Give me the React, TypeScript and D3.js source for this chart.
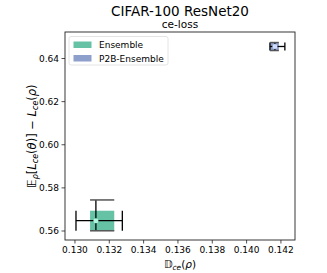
import React from "react";
import * as d3 from "d3";

const series = ["Ensemble", "P2B-Ensemble"];
const colors = ["#66c2a5", "#8da0cb"];
const dotColors = ["#b0f5dc", "#cfdcff"];
const centerX = [0.13122, 0.14165];
const centerY = [0.56478, 0.64557];
const boxXLow = [0.13088, 0.14136];
const boxXHigh = [0.13229, 0.14188];
const boxYLow = [0.5601, 0.6437];
const boxYHigh = [0.5694, 0.6474];
const errXLow = [0.13006, 0.14136];
const errXHigh = [0.13276, 0.14223];
const errYLow = [0.5601, 0.6437];
const errYHigh = [0.5744, 0.6474];
const xTicks = [0.13, 0.132, 0.134, 0.136, 0.138, 0.14, 0.142];
const yTicks = [0.56, 0.58, 0.6, 0.62, 0.64];

const W = 327, H = 273;
const L = 65, R = 295, T = 32, B = 240;
const FONT = "DejaVu Sans, sans-serif";

export default function App() {
  const x = d3.scaleLinear().domain([0.12942, 0.14282]).range([L, R]);
  const y = d3.scaleLinear().domain([0.56, 0.64]).range([231, 58.5]);
  return (
    <svg width={W} height={H} style={{ position: "absolute", left: 0, top: 0 }} fontFamily={FONT}>
      <rect x={0} y={0} width={W} height={H} fill="#fff" />
      <text x={180} y={16} textAnchor="middle" fontSize={13.5}>CIFAR-100 ResNet20</text>
      <text x={180} y={28} textAnchor="middle" fontSize={10.5}>ce-loss</text>
      {series.map((s, i) => (
        <g key={s}>
          <rect x={x(boxXLow[i])} y={y(boxYHigh[i])} width={x(boxXHigh[i]) - x(boxXLow[i])}
            height={y(boxYLow[i]) - y(boxYHigh[i])} fill={colors[i]} />
          <line x1={x(errXLow[i])} x2={x(errXHigh[i])} y1={y(centerY[i])} y2={y(centerY[i])} stroke="#000" strokeWidth={1.3} />
          <line x1={x(centerX[i])} x2={x(centerX[i])} y1={y(errYLow[i])} y2={y(errYHigh[i])} stroke="#000" strokeWidth={1.3} />
          {[errXLow[i], errXHigh[i]].map((v, j) => (
            <line key={"hx" + j} x1={x(v)} x2={x(v)} y1={y(boxYLow[i])} y2={y(boxYHigh[i])} stroke="#000" strokeWidth={1.3} />
          ))}
          {[errYLow[i], errYHigh[i]].map((v, j) => (
            <line key={"vy" + j} x1={x(boxXLow[i])} x2={x(boxXHigh[i])} y1={y(v)} y2={y(v)} stroke="#555" strokeWidth={1.5} />
          ))}
          <circle cx={x(centerX[i])} cy={y(centerY[i])} r={2.5} fill={dotColors[i]} />
        </g>
      ))}
      <rect x={L} y={T} width={R - L} height={B - T} fill="none" stroke="#222" strokeWidth={0.9} />
      {xTicks.map((t) => (
        <g key={"x" + t}>
          <line x1={x(t)} x2={x(t)} y1={B} y2={B + 3.5} stroke="#222" strokeWidth={0.8} />
          <text x={x(t)} y={253} textAnchor="middle" fontSize={9}>{t.toFixed(3)}</text>
        </g>
      ))}
      {yTicks.map((t) => (
        <g key={"y" + t}>
          <line x1={L - 3.5} x2={L} y1={y(t)} y2={y(t)} stroke="#222" strokeWidth={0.8} />
          <text x={L - 6} y={y(t) + 3.3} textAnchor="end" fontSize={9}>{t.toFixed(2)}</text>
        </g>
      ))}
      <text x={180} y={268} textAnchor="middle" fontSize={10.5}>
        <tspan fontStyle="italic">𝔻</tspan>
        <tspan fontSize={7.5} dy={2} fontStyle="italic">ce</tspan>
        <tspan dy={-2}>(</tspan><tspan fontStyle="italic">ρ</tspan><tspan>)</tspan>
      </text>
      <text transform={`translate(36,136) rotate(-90)`} textAnchor="middle" fontSize={11.5}>
        <tspan fontStyle="italic">𝔼</tspan>
        <tspan fontSize={8} dy={2} fontStyle="italic">ρ</tspan>
        <tspan dy={-2}>[</tspan><tspan fontStyle="italic">L</tspan>
        <tspan fontSize={8} dy={2} fontStyle="italic">ce</tspan>
        <tspan dy={-2}>(</tspan><tspan fontStyle="italic">θ</tspan><tspan>)] − </tspan>
        <tspan fontStyle="italic">L</tspan>
        <tspan fontSize={8} dy={2} fontStyle="italic">ce</tspan>
        <tspan dy={-2}>(</tspan><tspan fontStyle="italic">ρ</tspan><tspan>)</tspan>
      </text>
      <g>
        <rect x={69} y={36.5} width={99} height={28.5} rx={2} fill="#fff" stroke="#ddd" strokeWidth={0.8} />
        {series.map((s, i) => (
          <g key={"lg" + s}>
            <rect x={73.5} y={41.5 + i * 13.5} width={18} height={6.5} fill={colors[i]} />
            <text x={99} y={48 + i * 13.5} fontSize={9}>{s}</text>
          </g>
        ))}
      </g>
    </svg>
  );
}
